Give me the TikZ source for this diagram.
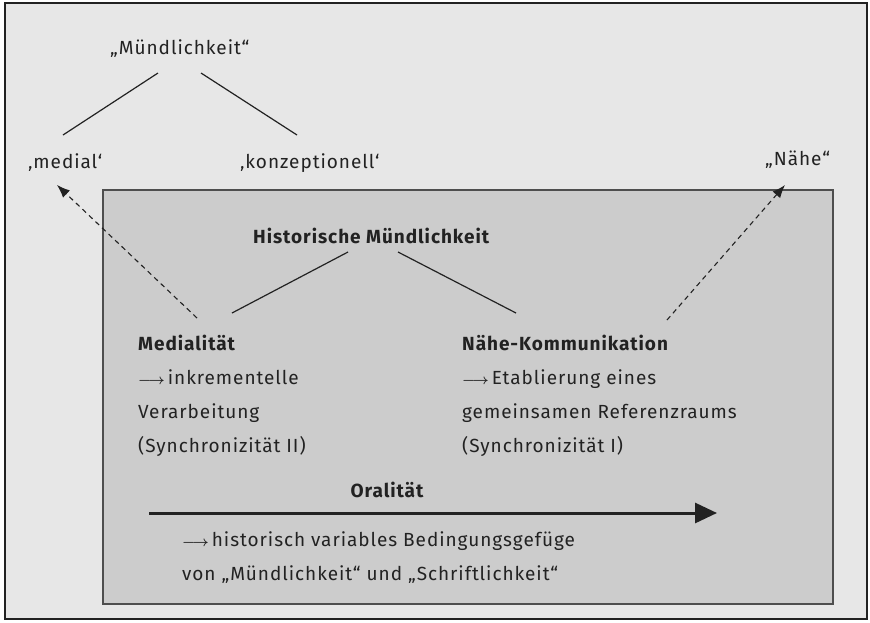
\documentclass[tikz,border=0pt]{standalone}
\usepackage{fontspec}
\setmainfont{Fira Sans}[LetterSpace=5]
\usetikzlibrary{arrows.meta, calc}

\definecolor{bgouter}{HTML}{E7E7E7}
\definecolor{bginner}{HTML}{CCCCCC}
\definecolor{ink}{HTML}{222222}

\newcommand{\lar}{{\fontsize{14}{14}\selectfont\boldmath$\longrightarrow$}\hspace{3pt}}

\begin{document}
\begin{tikzpicture}[x=1pt, y=-1pt,
  lbl/.style    = {inner sep=0pt, anchor=base west, text=ink,
                   font=\fontsize{19}{34}\selectfont, align=left},
  lblb/.style   = {lbl, font=\fontsize{19}{34}\selectfont\bfseries},
  branch/.style = {draw=ink, line width=1.2pt},
  darr/.style   = {draw=ink, line width=1.1pt, dash pattern=on 5pt off 4pt,
                   -{Latex[length=13pt,width=10pt]}},
  bigarr/.style = {draw=ink, line width=3pt, -{Triangle[length=22pt,width=20pt]}}
]
\useasboundingbox (0,0) rectangle (870,622);

%% -- frames ------------------------------------------------------------------
\draw[fill=bgouter, draw=ink, line width=2pt] (5,3) rectangle (867,619);
\draw[fill=bginner, draw=ink!80, line width=1.4pt] (103,190) rectangle (833,604);

%% -- upper tree --------------------------------------------------------------
\node[lbl] (mund)   at (110,54)  {„Mündlichkeit“};
\node[lbl] (medial) at (28,168)  {‚medial‘};
\node[lbl] (konz)   at (240,168) {‚konzeptionell‘};
\node[lbl] (naehe)  at (765,165) {„Nähe“};

%% -- inner box (multi-line nodes sit on their last baseline) -----------------
\node[lblb] (hist)   at (253,243) {Historische Mündlichkeit};
\node[lbl]  (medt)   at (138,452) {\textbf{Medialität}\\ \lar inkrementelle\\ Verarbeitung\\ (Synchronizität II)};
\node[lbl]  (naehek) at (462,452) {\textbf{Nähe-Kommunikation}\\ \lar Etablierung eines\\ gemeinsamen Referenzraums\\ (Synchronizität I)};
\node[lblb, anchor=base] (oral) at (387,497) {Oralität};
\node[lbl]  (bedg)   at (182,580) {\lar historisch variables Bedingungsgefüge\\ von „Mündlichkeit“ und „Schriftlichkeit“};

%% -- branches ----------------------------------------------------------------
\draw[branch] ($(mund.base west)+(48,19)$) -- ($(medial.base west)+(35,-33)$);
\draw[branch] ($(mund.base west)+(91,19)$) -- ($(konz.base west)+(57,-33)$);
\draw[branch] ($(hist.base west)+(95,9)$)  -- ($(medt.base west)+(94,-139)$);
\draw[branch] ($(hist.base west)+(145,9)$) -- ($(naehek.base west)+(54,-139)$);

%% -- dashed arrows out of the box --------------------------------------------
\draw[darr] ($(medt.base west)+(59,-134)$)   -- ($(medial.base west)+(29,17)$);
\draw[darr] ($(naehek.base west)+(205,-132)$) -- ($(naehe.base west)+(20,20)$);

%% -- orality axis --------------------------------------------------------------
\draw[bigarr] ($(oral.base)+(-238,16)$) -- ($(oral.base)+(330,16)$);

\end{tikzpicture}
\end{document}
